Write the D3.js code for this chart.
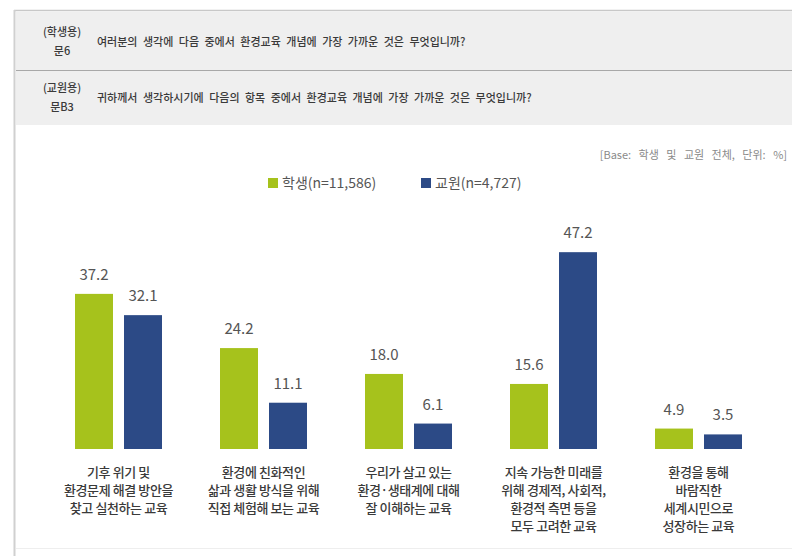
<!DOCTYPE html>
<html>
<head>
<meta charset="utf-8">
<script src="https://cdn.jsdelivr.net/npm/d3@7"></script>
<style>
  body { margin: 0; background: #fff; }
  svg { display: block; font-family: "Noto Sans CJK KR", "Noto Sans", sans-serif; }
</style>
</head>
<body>
<div id="container"></div>
<script>
// data
let categories = [
  ["기후 위기 및", "환경문제 해결 방안을", "찾고 실천하는 교육"],
  ["환경에 친화적인", "삶과 생활 방식을 위해", "직접 체험해 보는 교육"],
  ["우리가 살고 있는", "환경·생태계에 대해", "잘 이해하는 교육"],
  ["지속 가능한 미래를", "위해 경제적, 사회적,", "환경적 측면 등을", "모두 고려한 교육"],
  ["환경을 통해", "바람직한", "세계시민으로", "성장하는 교육"]
];
let seriesNames = ["학생(n=11,586)", "교원(n=4,727)"];
let studentValues = [37.2, 24.2, 18.0, 15.6, 4.9];
let teacherValues = [32.1, 11.1, 6.1, 47.2, 3.5];
let questionRows = [
  { tag: "(학생용)", num: "문6", text: "여러분의 생각에 다음 중에서 환경교육 개념에 가장 가까운 것은 무엇입니까?" },
  { tag: "(교원용)", num: "문B3", text: "귀하께서 생각하시기에 다음의 항목 중에서 환경교육 개념에 가장 가까운 것은 무엇입니까?" }
];
let baseNote = "[Base: 학생 및 교원 전체, 단위: %]";

let colors = ["#a6c21c", "#2c4a86"];

let w = 792;
let h = 556;

let viz = d3.select("#container")
  .append("svg")
    .attr("width", w)
    .attr("height", h)
;

// frame
viz.append("line")
  .attr("x1", 14).attr("x2", w).attr("y1", 10.5).attr("y2", 10.5)
  .attr("stroke", "#c8c8c8").attr("stroke-width", 1.5);
viz.append("line")
  .attr("x1", 14.5).attr("x2", 14.5).attr("y1", 10).attr("y2", h)
  .attr("stroke", "#d0d0d0").attr("stroke-width", 2);
viz.append("line")
  .attr("x1", 16).attr("x2", w).attr("y1", 548.5).attr("y2", 548.5)
  .attr("stroke", "#eeeeee").attr("stroke-width", 1);

// header box
let header = viz.append("g").attr("class", "header");
header.append("rect")
  .attr("x", 16).attr("y", 12)
  .attr("width", w - 16).attr("height", 113)
  .attr("fill", "#efefef");
header.append("line")
  .attr("x1", 16).attr("x2", w).attr("y1", 70.5).attr("y2", 70.5)
  .attr("stroke", "#a8a8a8").attr("stroke-width", 1.2);

let rowCenters = [42, 98];
header.selectAll(".qrow").data(questionRows).enter()
  .append("g")
  .attr("class", "qrow")
  .each(function(d, i) {
    let g = d3.select(this);
    let cy = rowCenters[i];
    g.append("text")
      .attr("x", 62).attr("y", cy - 6)
      .attr("text-anchor", "middle")
      .attr("font-size", 11).attr("font-weight", 500).attr("fill", "#3a3a3a")
      .text(d.tag);
    g.append("text")
      .attr("x", 62).attr("y", cy + 13)
      .attr("text-anchor", "middle")
      .attr("font-size", 11).attr("font-weight", 500).attr("fill", "#3a3a3a")
      .text(d.num);
    g.append("text")
      .attr("x", 97).attr("y", cy + 4)
      .attr("font-size", 11).attr("font-weight", 500).attr("fill", "#3a3a3a")
      .attr("word-spacing", 3)
      .text(d.text);
  });

// base note
viz.append("text")
  .attr("x", 787).attr("y", 159)
  .attr("text-anchor", "end")
  .attr("font-size", 11).attr("fill", "#8a8a8a")
  .attr("word-spacing", 5)
  .text(baseNote);

// legend
let legendX = [268, 421];
let legend = viz.selectAll(".legend").data(seriesNames).enter()
  .append("g")
  .attr("class", "legend")
  .attr("transform", function(d, i) { return "translate(" + legendX[i] + ",183)"; });
legend.append("rect")
  .attr("x", 0).attr("y", -5)
  .attr("width", 10).attr("height", 10)
  .attr("fill", function(d, i) { return colors[i]; });
legend.append("text")
  .attr("x", 14).attr("y", 5)
  .attr("font-size", 14).attr("fill", "#555")
  .text(function(d) { return d; });

// scales
let idx = d3.range(categories.length);
let x0 = d3.scaleBand().domain(idx).range([46, 771]);
let x1 = d3.scaleBand().domain([0, 1]).range([29, 116]).paddingInner(0.2245);
let yScale = d3.scaleLinear().domain([0, 50]).range([449, 240.5]);

let groups = viz.selectAll(".grp").data(idx).enter()
  .append("g")
  .attr("class", "grp")
  .attr("transform", function(d) { return "translate(" + x0(d) + ",0)"; });

let barData = function(d) {
  return [
    { s: 0, v: studentValues[d] },
    { s: 1, v: teacherValues[d] }
  ];
};

groups.selectAll("rect").data(barData).enter()
  .append("rect")
  .attr("x", function(d) { return x1(d.s); })
  .attr("y", function(d) { return yScale(d.v); })
  .attr("width", x1.bandwidth())
  .attr("height", function(d) { return yScale(0) - yScale(d.v); })
  .attr("fill", function(d) { return colors[d.s]; });

groups.selectAll(".val").data(barData).enter()
  .append("text")
  .attr("class", "val")
  .attr("x", function(d) { return x1(d.s) + x1.bandwidth() / 2; })
  .attr("y", function(d) { return yScale(d.v) - 14; })
  .attr("text-anchor", "middle")
  .attr("font-size", 15).attr("fill", "#555")
  .text(function(d) { return d.v.toFixed(1); });

// category labels
groups.append("text")
  .attr("class", "cat")
  .attr("text-anchor", "middle")
  .attr("font-size", 13).attr("font-weight", 500).attr("fill", "#3a3a3a")
  .attr("letter-spacing", -0.4)
  .each(function(d) {
    let t = d3.select(this);
    categories[d].forEach(function(line, k) {
      t.append("tspan")
        .attr("x", x0.bandwidth() / 2)
        .attr("y", 477 + k * 18)
        .text(line);
    });
  });
</script>
</body>
</html>
